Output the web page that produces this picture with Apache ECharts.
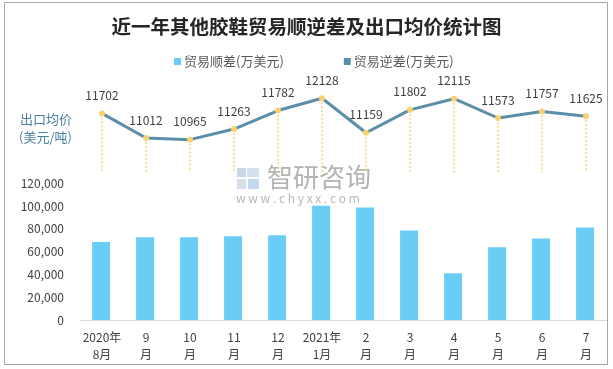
<!DOCTYPE html>
<html>
<head>
<meta charset="utf-8">
<script src="https://cdn.jsdelivr.net/npm/echarts@6/dist/echarts.min.js"></script>
<style>html,body{margin:0;padding:0;background:#fff}#c{width:613px;height:369px}</style>
</head>
<body>
<div id="c"></div>
<script>
var categories = ["2020年\n8月","9\n月","10\n月","11\n月","12\n月","2021年\n1月","2\n月","3\n月","4\n月","5\n月","6\n月","7\n月"];
var surplus = [68400, 72600, 72600, 73500, 74300, 100400, 98700, 78600, 41000, 63800, 71600, 81200];
var price = [11702, 11012, 10965, 11263, 11782, 12128, 11159, 11802, 12115, 11573, 11757, 11625];
var legendNames = ["贸易顺差(万美元)", "贸易逆差(万美元)"];
var titleText = "近一年其他胶鞋贸易顺逆差及出口均价统计图";

var font = "'Noto Sans CJK SC', 'Noto Sans', sans-serif";
var chart = echarts.init(document.getElementById('c'), null, {renderer: 'canvas'});
var option = {
  animation: false,
  backgroundColor: '#fff',
  textStyle: {fontFamily: font},
  title: {
    text: titleText, left: 'center', top: 12,
    textStyle: {fontSize: 19.5, fontWeight: 'bold', color: '#262626', fontFamily: font}
  },
  legend: {
    data: legendNames, left: 169, top: 50, icon: 'rect', itemWidth: 7, itemHeight: 7,
    itemGap: 60, textStyle: {fontSize: 13, color: '#595959', fontFamily: font, padding: [0, 0, 0, -2]}
  },
  grid: [
    {left: 80, right: 5, top: 183.3, bottom: 49, containLabel: false},
    {left: 80, right: 5, top: 85, bottom: 195, containLabel: false}
  ],
  xAxis: [
    {type: 'category', gridIndex: 0, data: categories, boundaryGap: true,
     axisLine: {lineStyle: {color: '#d9d9d9', width: 1}}, axisTick: {show: false},
     axisLabel: {fontSize: 12, color: '#404040', lineHeight: 17, margin: 9, interval: 0, fontFamily: font}},
    {type: 'category', gridIndex: 1, data: categories, boundaryGap: true, show: false}
  ],
  yAxis: [
    {type: 'value', gridIndex: 0, min: 0, max: 120000, interval: 20000,
     axisLine: {show: false}, axisTick: {show: false}, splitLine: {show: false},
     axisLabel: {fontSize: 12, color: '#404040', margin: 16, fontFamily: font,
       formatter: function (v) { return v.toString().replace(/\B(?=(\d{3})+(?!\d))/g, ','); }}},
    {type: 'value', gridIndex: 1, min: 10000, max: 12500, show: false}
  ],
  graphic: [
    {type: 'rect', shape: {x: 4.5, y: 2.5, width: 603, height: 362}, style: {fill: 'none', stroke: '#a6a6a6', lineWidth: 1}, z: 100},
    {type: 'text', left: 20, top: 113, style: {text: '出口均价', fontSize: 13, fill: '#4a7fa0', fontFamily: font}},
    {type: 'text', left: 19, top: 131, style: {text: '(美元/吨)', fontSize: 13, fill: '#4a7fa0', fontFamily: font}},
    {type: 'group', left: 236, top: 164, z: 0, silent: true, children: [
      {type: 'rect', shape: {x: 1, y: 2, width: 9, height: 9}, style: {fill: '#c9d6e6'}},
      {type: 'rect', shape: {x: 11, y: 2, width: 12, height: 9}, style: {fill: '#d6e0ec'}},
      {type: 'rect', shape: {x: 1, y: 13, width: 9, height: 10}, style: {fill: '#d6e0ec'}},
      {type: 'rect', shape: {x: 12, y: 13, width: 11, height: 10}, style: {fill: '#c2d9ef'}},
      {type: 'text', x: 31, y: -2, style: {text: '智研咨询', fontSize: 26, fill: '#b3b3b3', fontFamily: font}},
      {type: 'text', x: 0, y: 26, style: {text: 'w w w . c h y x x . c o m', fontSize: 12, fill: '#b8b8b8', fontFamily: font}}
    ]}
  ],
  series: [
    {name: legendNames[0], type: 'bar', xAxisIndex: 0, yAxisIndex: 0, data: surplus, barWidth: 18,
     itemStyle: {color: '#6acdf5'}, z: 2},
    {name: legendNames[1], type: 'bar', xAxisIndex: 0, yAxisIndex: 0, data: [], itemStyle: {color: '#5b8ea8'}},
    {name: 'drop', type: 'custom', xAxisIndex: 1, yAxisIndex: 1, data: price.map(function (v, i) { return [i, v]; }),
     z: 1, silent: true,
     renderItem: function (params, api) {
       var p = api.coord([api.value(0), api.value(1)]);
       var b = api.coord([api.value(0), 10050]);
       return {type: 'line', shape: {x1: p[0], y1: p[1], x2: b[0], y2: b[1]},
               style: {stroke: '#f7cf6b', lineWidth: 1.5, lineDash: [2, 2]}};
     }},
    {name: '出口均价', type: 'line', xAxisIndex: 1, yAxisIndex: 1, data: price, z: 3,
     lineStyle: {color: '#5b8ea8', width: 3}, symbol: 'circle', symbolSize: 6,
     itemStyle: {color: '#f9d16f'},
     label: {show: true, position: 'top', distance: 9, fontSize: 12, color: '#404040', fontFamily: font}}
  ]
};
chart.setOption(option);
</script>
</body>
</html>
